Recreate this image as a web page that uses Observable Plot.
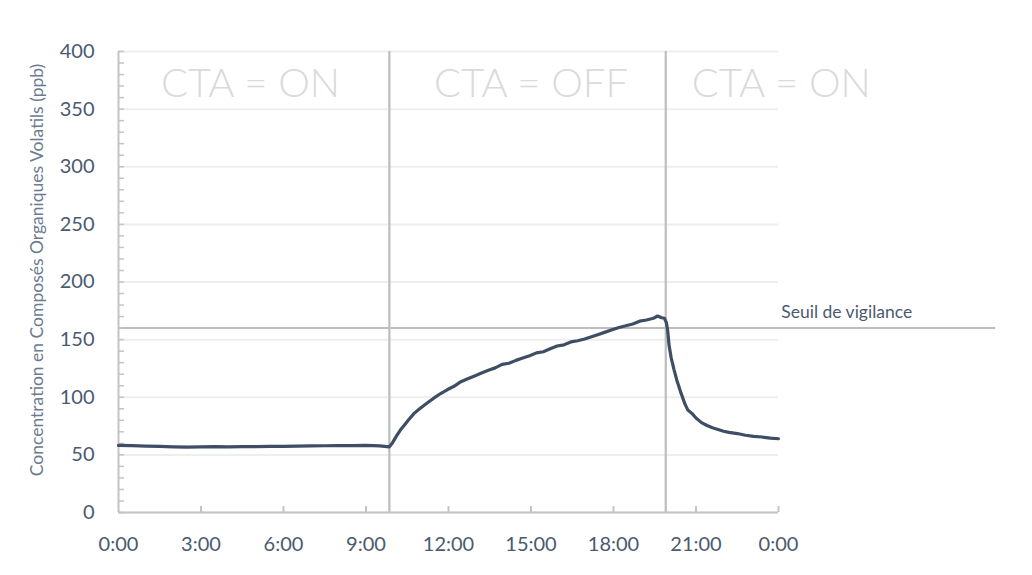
<!DOCTYPE html>
<html><head><meta charset="utf-8">
<script src="https://cdn.jsdelivr.net/npm/d3@7"></script>
<script src="https://cdn.jsdelivr.net/npm/@observablehq/plot@0.6"></script>
<style>
html,body{margin:0;padding:0;background:#fff;}
#chart{width:1032px;height:575px;}
svg{font-family:Lato,"Open Sans",sans-serif;}
</style></head>
<body><div id="chart"></div>
<script>
// time in decimal hours
const hours = [0,0.5,1,1.5,2,2.5,3,3.5,4,4.5,5,5.5,6,6.5,7,7.5,8,8.5,9,9.5,9.85,
  9.95,10.1,10.25,10.4,10.55,10.75,10.95,11.2,11.45,11.7,11.95,12.2,12.45,12.7,12.95,13.2,13.45,13.7,13.95,
  14.2,14.45,14.7,14.95,15.2,15.45,15.7,15.95,16.2,16.45,16.7,16.95,17.2,17.45,17.7,17.95,18.2,18.45,18.7,18.95,
  19.2,19.45,19.6,19.75,19.85,19.92,19.97,20.02,20.1,20.2,20.3,20.45,20.6,20.7,20.85,21.0,21.2,21.4,21.6,21.8,
  22.0,22.2,22.5,22.8,23.1,23.4,23.7,24.0];
const ppb = [58.2,58.0,57.6,57.3,57.0,56.8,56.9,57.1,57.0,57.2,57.1,57.4,57.3,57.6,57.8,57.9,58.1,58.0,58.3,57.8,57.0,
  60,66,71.5,76,80.5,86,90,94.5,99,103,106.5,109.5,113.5,116,118.5,121,123.5,125.5,128.5,
  129.5,132,134,136,138.5,139.5,142,144.5,145.5,148,149,150.5,152.5,154.5,156.5,158.5,160.5,162,163.5,166,
  167,168.5,170.5,169,168.5,165,158,145,134,124,115,104,94,89,86,82,78,75.5,73.5,72,
  70.5,69.5,68.5,67,66,65.5,64.5,64];
const switchTimes = [9.85, 19.9];
const phaseLabels = ["CTA = ON", "CTA = OFF", "CTA = ON"];
const phaseCenters = [4.8, 15.0, 24.1];
const threshold = 160;
const thresholdLabel = "Seuil de vigilance";
const thresholdEnd = 31.9;
const yLabel = "Concentration en Composés Organiques Volatils (ppb)";
const xTicks = [0,3,6,9,12,15,18,21,24];
const yTicks = [0,50,100,150,200,250,300,350,400];
const yMinor = d3.range(0, 401, 10);

const data = hours.map((h, i) => ({h, v: ppb[i]}));
const fmt = h => `${h % 24}:00`;

const chart = Plot.plot({
  width: 1032, height: 575,
  marginLeft: 118, marginRight: 254, marginTop: 51, marginBottom: 63,
  x: {domain: [0, 24]},
  y: {domain: [0, 400]},
  style: {overflow: "visible"},
  marks: [
    Plot.ruleY(yTicks, {x1: 0, x2: 24, stroke: "#eeeeee", strokeWidth: 2}),
    Plot.ruleY([threshold], {x1: 0, x2: thresholdEnd, stroke: "#bdbdbd", strokeWidth: 2, clip: false}),
    Plot.ruleX(switchTimes, {y1: 0, y2: 400, stroke: "#bdbdbd", strokeWidth: 2.2}),
    Plot.ruleX([0], {y1: 0, y2: 400, stroke: "#c4c4c4", strokeWidth: 2}),
    Plot.ruleY([0], {x1: 0, x2: 24, stroke: "#c4c4c4", strokeWidth: 2}),
    Plot.axisY({ticks: yMinor, tickSize: 6, dx: 6, tickFormat: () => "", stroke: "#c4c4c4", strokeWidth: 1.5, label: null}),
    Plot.axisY({ticks: yTicks, tickSize: 0, tickPadding: 24, fontSize: 20, fill: "#4a5a70", label: null}),
    Plot.axisX({ticks: xTicks.slice(1), tickSize: 6, dy: -6, tickFormat: () => "", stroke: "#c4c4c4", strokeWidth: 2, label: null}),
    Plot.axisX({ticks: xTicks, tickSize: 0, tickPadding: 24, tickFormat: fmt, fontSize: 20, fill: "#4a5a70", label: null}),
    Plot.text(phaseLabels, {x: (d, i) => phaseCenters[i], y: 372, text: d => d, fontSize: 40, fill: "#dadada", fontWeight: 300, clip: false}),
    Plot.text([thresholdLabel], {x: 24.1, y: threshold, text: d => d, dy: -16, textAnchor: "start", fontSize: 17.5, fill: "#4a5a70"}),
    Plot.text([yLabel], {frameAnchor: "left", textAnchor: "middle", rotate: -90, dx: -81, dy: -12, text: d => d, fontSize: 17.5, fill: "#6b7b90"}),
    Plot.line(data, {x: "h", y: "v", stroke: "#3d4e65", strokeWidth: 3.2, curve: "linear"})
  ]
});
document.getElementById("chart").appendChild(chart);
</script></body></html>
